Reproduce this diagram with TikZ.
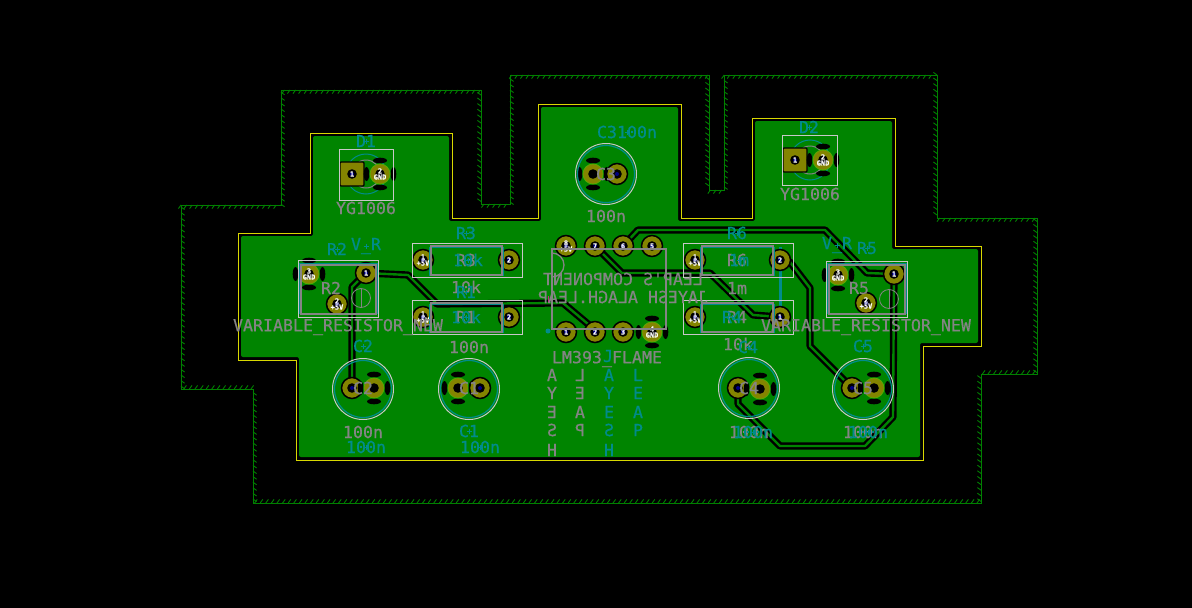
\documentclass[tikz,border=0pt]{standalone}
\usepackage{fontspec}
\setmonofont[FakeBold=0.6]{DejaVu Sans Mono}
\usetikzlibrary{decorations.markings,calc}
\definecolor{pcbgreen}{HTML}{008400}
\definecolor{keep}{HTML}{008000}
\definecolor{gold}{HTML}{848400}
\definecolor{edgey}{HTML}{D8D800}
\definecolor{silk}{HTML}{848484}
\definecolor{tealb}{HTML}{008C8C}
\definecolor{whitec}{HTML}{C8C8C8}
\definecolor{holeb}{HTML}{000084}
\newcommand\us{\string_}
\pgfdeclarelayer{board}
\pgfdeclarelayer{tracks}
\pgfsetlayers{board,tracks,main}
\tikzset{
  gtxt/.style={text=silk,font=\ttfamily\fontsize{16.6}{17}\selectfont,inner sep=0pt},
  ttxt/.style={text=tealb,font=\ttfamily\fontsize{16.6}{17}\selectfont,inner sep=0pt},
  ptxt/.style={text=white,font=\ttfamily\bfseries\fontsize{7}{7}\selectfont,inner sep=0pt,align=center},
  padn/.style={circle,draw=black,line width=1.5pt,fill=gold,minimum size=21pt,inner sep=0pt},
  padt/.style={circle,draw=gold!70!green,line width=.8pt,fill=gold,minimum size=20pt,inner sep=0pt},
  pads/.style={rectangle,draw=black,line width=1.2pt,fill=gold,minimum size=24pt,inner sep=0pt,rounded corners=1pt},
  trk/.style={line width=2.4pt,draw=black,double=pcbgreen,double distance=2.4pt,line join=round},
  silkw/.style={draw=whitec,line width=1pt},
  silkg/.style={draw=silk,line width=1.5pt},
  silkt/.style={draw=tealb,line width=1pt},
  hatched/.style={postaction={decorate,decoration={markings,
     mark=between positions 0 and 1 step 5.6pt with {\draw[keep,line width=.9pt] (0pt,0pt)--(-2.6pt,-3.6pt);}}}},
}
\newcommand\padhole[2][holeb]{%
  \fill[black] (#2.center) circle (4.8);
  \fill[#1] (#2.center) circle (2);}
% round pad: name,x,y,label
\newcommand\pd[4]{%
  \node[padn] (#1) at (#2,#3) {};
  \padhole{#1}
  \node[ptxt] (#1-t) at (#2,#3) {#4};}
% thermal pad
\newcommand\pt[4]{%
  \foreach \a in {0,90,180,270}{\fill[black] ($(#2,#3)+(\a:13.5)$) ellipse [x radius={\a==0||\a==180?2.8:7}, y radius={\a==0||\a==180?7:2.8}];}
  \node[padt] (#1) at (#2,#3) {};
  \padhole[black]{#1}
  \node[ptxt] (#1-t) at (#2,#3) {#4};}
\newcommand\ps[4]{%
  \node[pads] (#1) at (#2,#3) {};
  \padhole{#1}
  \node[ptxt] (#1-t) at (#2,#3) {#4};}
\begin{document}
\begin{tikzpicture}[x=1pt,y=-1pt]
\useasboundingbox (0,0) rectangle (1192,608);
\begin{pgfonlayer}{board}
\fill[black] (0,0) rectangle (1192,608);
% keep-out outline
\draw[keep,line width=1pt,hatched]
  (181,205)--(281,205)--(281,90)--(481,90)--(481,204)--(510,204)--(510,75)--(709,75)--(709,190)--(724,190)--(724,75)--(937,75)--(937,218)--(1037,218)--(1037,374)--(981,374)--(981,503)--(253,503)--(253,389)--(181,389)--cycle;
% copper zone
\fill[pcbgreen,rounded corners=2pt] (241,236)--(313,236)--(313,136)--(449,136)--(449,221)--(541,221)--(541,107)--(678,107)--(678,221)--(755,221)--(755,121)--(892,121)--(892,249)--(978,249)--(978,343)--(920,343)--(920,457)--(299,457)--(299,357)--(241,357)--cycle;
% board edge
\draw[edgey,line width=.9pt] (238,233)--(310,233)--(310,133)--(452,133)--(452,218)--(538,218)--(538,104)--(681,104)--(681,218)--(752,218)--(752,118)--(895,118)--(895,246)--(981,246)--(981,346)--(923,346)--(923,460)--(296,460)--(296,360)--(238,360)--cycle;
\end{pgfonlayer}
% silk under pads
\draw[tealb,line width=3pt] (780,247)--(780,315);
\draw[silkt] (366,174) circle (20); \draw[silk,line width=1pt] (366,174) circle (14);
\draw[silkt] (810,160) circle (20); \draw[silk,line width=1pt] (810,160) circle (14);
% pads
\ps{d1a}{352}{174}{1}
\pt{d1b}{380}{174}{2\\[-1pt]GND}
\ps{d2a}{795}{160}{1}
\pt{d2b}{823}{160}{2\\[-1pt]GND}
\pt{c3a}{593}{174}{}
\pd{c3b}{617}{174}{}
\pd{c2a}{352}{388}{}
\pt{c2b}{374}{388}{}
\pt{c1a}{458}{388}{}
\pd{c1b}{480}{388}{}
\pd{c4a}{738}{388}{}
\pt{c4b}{760}{389}{}
\pd{c5a}{852}{388}{}
\pt{c5b}{874}{388}{}
\pd{r3a}{423}{260}{1\\[-1pt]+5V}
\pd{r3b}{509}{260}{2}
\pd{r1a}{423}{317}{1\\[-1pt]+5V}
\pd{r1b}{509}{317}{2}
\pd{r6a}{695}{260}{1\\[-1pt]+5V}
\pd{r6b}{780}{260}{2}
\pd{r4a}{695}{317}{1\\[-1pt]+5V}
\pd{r4b}{780}{317}{1}
\pt{r2c}{309}{274}{3\\[-1pt]GND}
\pd{r2a}{366}{273}{1}
\pd{r2b}{337}{304}{2\\[-1pt]+5V}
\pt{r5c}{838}{275}{3\\[-1pt]GND}
\pd{r5a}{894}{274}{1}
\pd{r5b}{866}{303}{2\\[-1pt]+5V}
\pd{u8}{566}{246}{8\\[-1pt]+5V}
\pd{u7}{595}{246}{7}
\pd{u6}{623}{246}{6}
\pd{u5}{652}{246}{5}
\pd{u1}{566}{332}{1}
\pd{u2}{595}{332}{2}
\pd{u3}{623}{332}{3}
\pt{u4}{652}{332}{4\\[-1pt]GND}
% tracks
\begin{pgfonlayer}{tracks}
\draw[trk] (r2a.center)--(352,287)--(c2a.center);
\draw[trk] (r2a.center)--(408,275)--(437,304)--(563,303)--(588,324)--(u2.center);
\draw[trk] (u7.center)--(622,273)--(710,273)--(753,315)--(r4b.center);
\draw[trk] (u6.center)--(638,230)--(825,230)--(867,273)--(r5a.center);
\draw[trk] (r5a.center)--(893,417)--(865,446)--(780,446)--(738,404)--(c4a.center);
\draw[trk] (r6b.center)--(790,262)--(810,288)--(810,346)--(c5a.center);
\end{pgfonlayer}
% capacitor outlines
\foreach \n/\x/\y in {c1/469/389,c2/363/389,c3/606/174,c4/749/388,c5/863/389}{
  \draw[silkt,line width=1.2pt] (\x,\y) circle (28.5);
  \draw[silkw] (\x,\y) circle (30.5);
}
% courtyards / bodies
\draw[silkw] (339,149) rectangle (393,200);
\draw[silkw] (782,135) rectangle (837,185);
\foreach \a/\b in {412/243,412/300,683/243,683/300}{
  \draw[silkt] (\a+17,\b+4) rectangle ++(74,28);
  \draw[silkg] (\a+19,\b+3) rectangle ++(71,29);
  \draw[silkw] (\a,\b) rectangle ++(110,34);
}
\draw[silkt] (299,263) rectangle (377,313);
\draw[silkg] (301,265) rectangle (376,314);
\draw[silkw] (298,260) rectangle (378,317);
\draw[silk,line width=.8pt] (361,298) circle (9.5); \draw[silk,line width=.6pt] (361,289)--(361,307);
\draw[silkt] (827,263) rectangle (906,313);
\draw[silkg] (829,265) rectangle (905,314);
\draw[silkw] (826,261) rectangle (907,317);
\draw[silk,line width=.8pt] (889,299) circle (9.5); \draw[silk,line width=.6pt] (889,290)--(889,308);
\draw[silkg] (552,249) rectangle (666,329);
\draw[silk,line width=1.3pt] (552,277) arc (90:-90:12);
\fill[tealb] (548,331) circle (2.5);
\draw[magenta!80!black,line width=1pt] (548,296)--(548,303);
% grey text
\node[gtxt] (t1) at (366,208) {YG1006};
\node[gtxt] (t2) at (810,194) {YG1006};
\node[gtxt] (t3) at (606,216) {100n};
\node[gtxt] (t4) at (466,260) {R3};
\node[gtxt] (t5) at (466,287) {10k};
\node[gtxt] (t6) at (466,317) {R1};
\node[gtxt] (t7) at (469,347) {100n};
\node[gtxt] (t8) at (737,260) {R6};
\node[gtxt] (t9) at (737,288) {1m};
\node[gtxt] (t10) at (737,317) {R4};
\node[gtxt] (t11) at (738,344) {10k};
\node[gtxt] (t12) at (331,288) {R2};
\node[gtxt] (t13) at (859,288) {R5};
\node[gtxt] (t14) at (338,327) {VARIABLE\us RESISTOR\us NEW};
\node[gtxt] (t15) at (866,327) {VARIABLE\us RESISTOR\us NEW};
\node[gtxt] (t16) at (363,388) {C2};
\node[gtxt] (t17) at (469,388) {C1};
\node[gtxt] (t18) at (606,174) {C3};
\node[gtxt] (t19) at (749,388) {C4};
\node[gtxt] (t20) at (863,388) {C5};
\node[gtxt] (t21) at (363,432) {100n};
\node[gtxt] (t22) at (749,432) {100n};
\node[gtxt] (t23) at (863,432) {100n};
\node[gtxt] (t24) at (607,359) {LM393\us FLAME};
\node[gtxt,xscale=-1] (t25) at (623,279) {LEAP'S COMPONENT};
\node[gtxt,xscale=-1] (t26) at (623,297) {JAYESH ALAGH.LEAP};
% teal text
\node[ttxt] (a1) at (366,141) {D1};
\node[ttxt] (a2) at (809,127) {D2};
\node[ttxt] (a3) at (627,132) {C3100n};
\node[ttxt] (a4) at (466,233) {R3};
\node[ttxt] (a5) at (468,260) {10k};
\node[ttxt] (a6) at (466,292) {R1};
\node[ttxt] (a7) at (466,317) {10k};
\node[ttxt] (a8) at (737,233) {R6};
\node[ttxt] (a9) at (739,260) {1m};
\node[ttxt] (a10) at (732,317) {R4};
\node[ttxt] (a11) at (748,347) {C4};
\node[ttxt] (a12) at (337,249) {R2};
\node[ttxt] (a13) at (366,246) {V\us R};
\node[ttxt] (a14) at (867,248) {R5};
\node[ttxt] (a15) at (837,245) {V\us R};
\node[ttxt] (a16) at (363,346) {C2};
\node[ttxt] (a17) at (469,431) {C1};
\node[ttxt] (a18) at (366,447) {100n};
\node[ttxt] (a19) at (480,447) {100n};
\node[ttxt] (a20) at (753,432) {100n};
\node[ttxt] (a21) at (868,432) {100n};
\node[ttxt] (a22) at (863,346) {C5};
\node[ttxt] (a23) at (608,356) {J};
% anchor crosses of the teal texts
\foreach \i in {1,...,22}{
  \draw[tealb,line width=.7pt] ($(a\i.center)+(-2.5,0)$)--($(a\i.center)+(2.5,0)$) ($(a\i.center)+(0,-2.5)$)--($(a\i.center)+(0,2.5)$);
}
% stacked letters
\foreach \c/\y [count=\i] in {A/375,Y/393,E/412,S/430,H/450}{
  \node[gtxt,xscale=-1] (v1\i) at (552,\y) {\c};
}
\foreach \c/\y [count=\i] in {L/375,E/393,A/412,P/430}{
  \node[gtxt,xscale=-1] (v2\i) at (580,\y) {\c};
}
\foreach \c/\y [count=\i] in {A/375,Y/393,E/412}{
  \node[ttxt] (v3\i) at (609,\y) {\c};
}
\node[ttxt,xscale=-1] (v34) at (609,430) {S};
\node[ttxt] (v35) at (609,450) {H};
\foreach \c/\y [count=\i] in {L/375,E/393,A/412,P/430}{
  \node[ttxt] (v4\i) at (638,\y) {\c};
}
\end{tikzpicture}
\end{document}
